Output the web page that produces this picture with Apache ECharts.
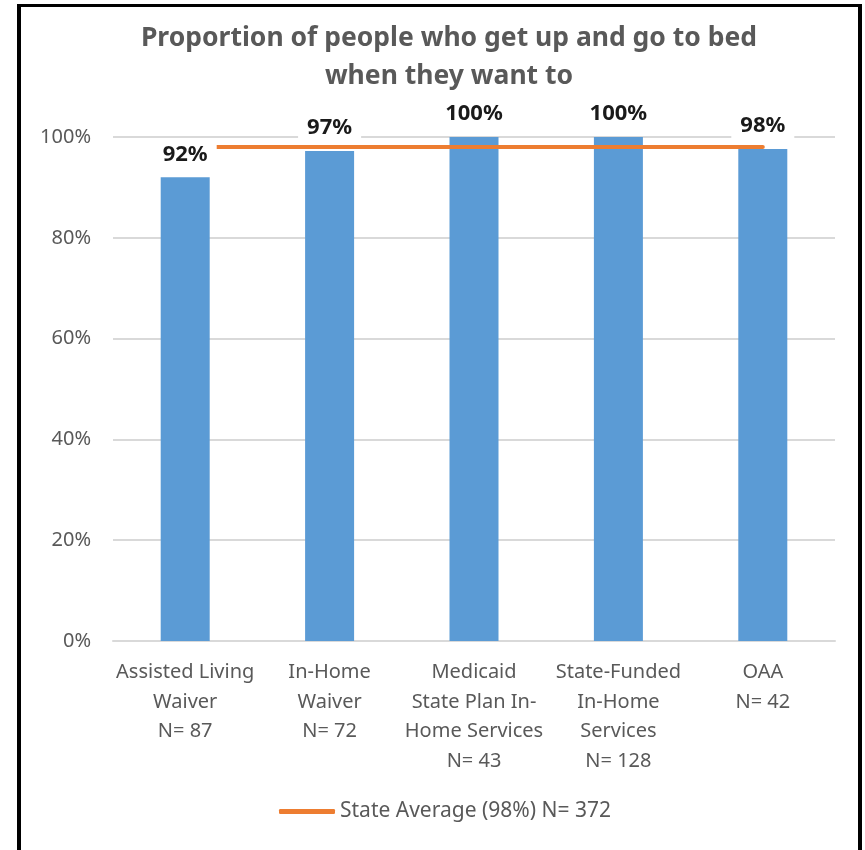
<!DOCTYPE html>
<html>
<head>
<meta charset="utf-8">
<script src="https://cdn.jsdelivr.net/npm/echarts@6/dist/echarts.min.js"></script>
<style>
  html, body { margin: 0; padding: 0; background: #fff; }
  #chart { position: absolute; left: 0; top: 0; width: 865px; height: 850px; }
  .frame { position: absolute; left: 17px; top: 4px; width: 837px; height: 900px;
           border: 4px solid #000; border-top-width: 3px; pointer-events: none; }
</style>
</head>
<body>
<div id="chart"></div>
<div class="frame"></div>
<script>
  const categories = [
    'Assisted Living\nWaiver\nN= 87',
    'In-Home\nWaiver\nN= 72',
    'Medicaid\nState Plan In-\nHome Services\nN= 43',
    'State-Funded\nIn-Home\nServices\nN= 128',
    'OAA\nN= 42'
  ];
  const proportions = [92, 97.2, 100, 100, 97.6];
  const stateAverage = [98, 98, 98, 98, 98];
  const averageName = 'State Average (98%) N= 372';
  const yTicks = [0, 20, 40, 60, 80, 100];

  const font = '"Noto Sans", sans-serif';
  const grey = '#595959';

  let myChart = echarts.init(document.getElementById('chart'));
  let option = {
    animation: false,
    title: {
      text: 'Proportion of people who get up and go to bed\nwhen they want to',
      left: 444,
      textAlign: 'center',
      top: 14,
      textStyle: { fontFamily: font, fontSize: 26.5, fontWeight: 'bold', color: grey, lineHeight: 38 }
    },
    legend: {
      data: [{ name: averageName, icon: 'roundRect' }],
      bottom: 23,
      left: 274,
      itemWidth: 56,
      itemHeight: 5,
      itemGap: 0,
      textStyle: { fontFamily: font, fontSize: 21, color: grey }
    },
    grid: {
      left: 113,
      right: 30,
      top: 137,
      bottom: 209,
      containLabel: false
    },
    xAxis: {
      type: 'category',
      data: categories,
      axisTick: { show: false },
      axisLine: { lineStyle: { color: '#d9d9d9', width: 2 } },
      axisLabel: { fontFamily: font, fontSize: 20, color: grey, lineHeight: 29.5, margin: 17, interval: 0 }
    },
    yAxis: {
      type: 'value',
      min: yTicks[0],
      max: yTicks[yTicks.length - 1],
      interval: 20,
      axisLine: { show: false },
      axisTick: { show: false },
      splitLine: { lineStyle: { color: '#d9d9d9', width: 2 } },
      axisLabel: { fontFamily: font, fontSize: 20, color: grey, margin: 22, formatter: '{value}%' }
    },
    series: [
      {
        name: 'Proportion',
        type: 'bar',
        data: proportions,
        barWidth: 49,
        z: 2,
        itemStyle: { color: '#5B9BD5' }
      },
      {
        name: averageName,
        type: 'line',
        data: stateAverage,
        symbol: 'none',
        z: 3,
        lineStyle: { color: '#ED7D31', width: 4, cap: 'round' },
        itemStyle: { color: '#ED7D31' }
      },
      {
        // transparent copy of the bars, only there so the labels sit above the line
        name: 'labels',
        type: 'bar',
        data: proportions,
        barWidth: 49,
        barGap: '-100%',
        z: 4,
        itemStyle: { color: 'rgba(0,0,0,0)' },
        label: {
          show: true,
          position: 'top',
          distance: 10,
          fontFamily: font,
          fontSize: 22,
          fontWeight: 'bold',
          color: '#1a1a1a',
          backgroundColor: '#fff',
          padding: [2, 9],
          formatter: p => Math.round(p.value) + '%'
        }
      }
    ]
  };
  option && myChart.setOption(option);
</script>
</body>
</html>
